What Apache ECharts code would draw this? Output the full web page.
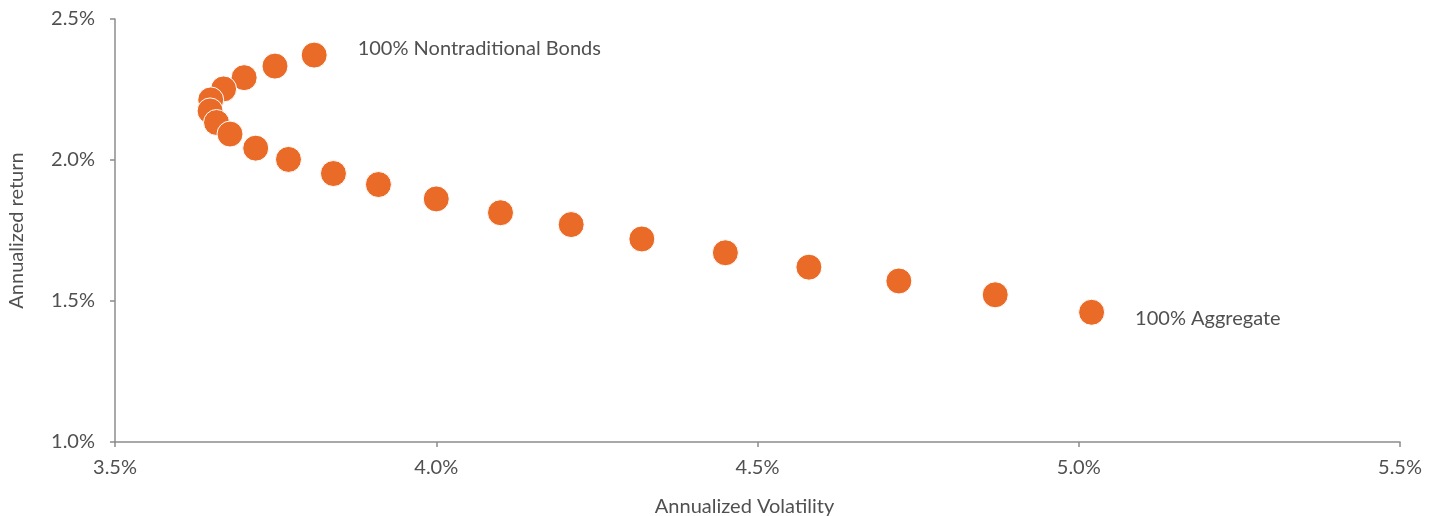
<!DOCTYPE html>
<html>
<head>
<meta charset="utf-8">
<script src="https://cdn.jsdelivr.net/npm/echarts@6/dist/echarts.min.js"></script>
<style>
  html, body { margin: 0; padding: 0; background: #fff; }
  #chart { width: 1440px; height: 516px; }
</style>
</head>
<body>
<div id="chart"></div>
<script>
// portfolio mixes, from 100% nontraditional bonds down to 100% aggregate
const volatility = [3.81, 3.749, 3.701, 3.669, 3.649, 3.648, 3.658, 3.679, 3.719, 3.77, 3.84,
  3.91, 4.0, 4.1, 4.21, 4.32, 4.45, 4.58, 4.72, 4.87, 5.02];
const annualReturn = [2.372, 2.333, 2.292, 2.252, 2.213, 2.174, 2.133, 2.092, 2.042, 2.002, 1.952,
  1.913, 1.862, 1.813, 1.771, 1.72, 1.671, 1.62, 1.571, 1.522, 1.46];
const endLabels = ["100% Nontraditional Bonds", "100% Aggregate"];

const textColor = "#505050";
const axisColor = "#8c8c8c";
const dotColor = "#EA6A27";

const points = volatility.map((v, i) => {
  const p = { value: [v, annualReturn[i]] };
  if (i === 0) {
    p.label = { show: true, position: "right", distance: 30, offset: [0, -7], formatter: endLabels[0] };
  } else if (i === volatility.length - 1) {
    p.label = { show: true, position: "right", distance: 30, offset: [0, 6], formatter: endLabels[1] };
  }
  return p;
});

const chart = echarts.init(document.getElementById("chart"), null, { renderer: "canvas" });
chart.setOption({
  animation: false,
  textStyle: { fontFamily: "Lato, sans-serif" },
  grid: { left: 115, right: 40, top: 19, bottom: 74, outerBoundsMode: "none", containLabel: false },
  xAxis: {
    type: "value",
    min: 3.5,
    max: 5.5,
    interval: 0.5,
    name: "Annualized Volatility",
    nameLocation: "middle",
    nameGap: 55,
    nameTextStyle: { color: textColor, fontSize: 20, padding: [0, 26, 0, 0] },
    axisLine: { show: true, lineStyle: { color: axisColor, width: 1.5 } },
    axisTick: { show: true, length: 5, lineStyle: { color: axisColor, width: 1.5 } },
    axisLabel: { color: textColor, fontSize: 20, margin: 16, formatter: (v) => v.toFixed(1) + "%" },
    splitLine: { show: false }
  },
  yAxis: {
    type: "value",
    min: 1.0,
    max: 2.5,
    interval: 0.5,
    name: "Annualized return",
    nameLocation: "middle",
    nameGap: 88,
    nameTextStyle: { color: textColor, fontSize: 20 },
    axisLine: { show: true, lineStyle: { color: axisColor, width: 1.5 } },
    axisTick: { show: true, length: 5, lineStyle: { color: axisColor, width: 1.5 } },
    axisLabel: { color: textColor, fontSize: 20, margin: 20, formatter: (v) => v.toFixed(1) + "%" },
    splitLine: { show: false }
  },
  series: [
    {
      type: "scatter",
      symbolSize: 26,
      itemStyle: { color: dotColor, opacity: 1, borderColor: "#fff", borderWidth: 1 },
      label: { color: textColor, fontSize: 20 },
      data: points
    }
  ]
});
</script>
</body>
</html>
